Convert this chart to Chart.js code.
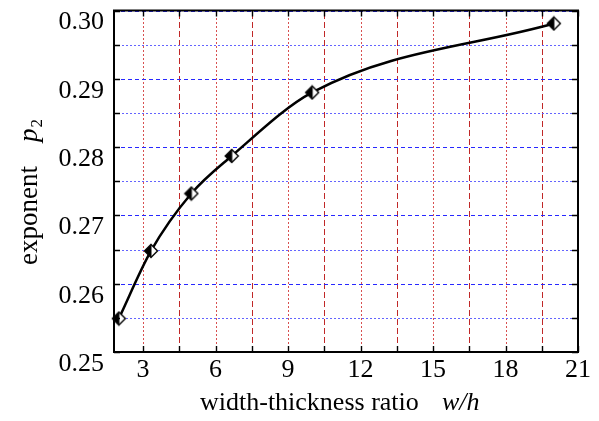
<!DOCTYPE html>
<html>
<head>
<meta charset="utf-8">
<script src="https://cdn.jsdelivr.net/npm/chart.js@4/dist/chart.umd.min.js"></script>
<style>
html,body{margin:0;padding:0;background:#fff;}
#wrap{width:599px;height:421px;position:relative;}
</style>
</head>
<body>
<div id="wrap"><canvas id="c"></canvas></div>
<script>
// ---- data ----
const widthThicknessRatio = [2, 3.33, 5, 6.67, 10, 20];
const exponentP2 = [0.2549, 0.2648, 0.2732, 0.2787, 0.2880, 0.2981];

const xMajorTicks = [3, 6, 9, 12, 15, 18, 21];
const xTickLabels = ['3', '6', '9', '12', '15', '18', '21'];
const xMinorTicks = [4.5, 7.5, 10.5, 13.5, 16.5, 19.5];

const yMajorTicks = [0.25, 0.26, 0.27, 0.28, 0.29, 0.30];
const yTickLabels = ['0.25', '0.26', '0.27', '0.28', '0.29', '0.30'];
const yMinorTicks = [0.255, 0.265, 0.275, 0.285, 0.295];

const xRange = [1.8, 21];
const yRange = [0.25, 0.30];

// ---- helpers ----
function findIdx(arr, v) {
  for (let i = 0; i < arr.length; i++) if (Math.abs(arr[i] - v) < 1e-7) return i;
  return -1;
}
function makeDiamond() {
  const w = 16, h = 16;
  const cv = document.createElement('canvas');
  cv.width = w; cv.height = h;
  const c = cv.getContext('2d');
  const cx = 8, cy = 8, rx = 6.5, ry = 6.5;
  c.beginPath();
  c.moveTo(cx, cy - ry); c.lineTo(cx + rx, cy); c.lineTo(cx, cy + ry); c.lineTo(cx - rx, cy); c.closePath();
  c.fillStyle = '#fff'; c.fill();
  c.beginPath();
  c.moveTo(cx + 0.5, cy - ry); c.lineTo(cx + 0.5, cy + ry); c.lineTo(cx - rx, cy); c.closePath();
  c.fillStyle = '#000'; c.fill();
  c.beginPath();
  c.moveTo(cx, cy - ry); c.lineTo(cx + rx, cy); c.lineTo(cx, cy + ry); c.lineTo(cx - rx, cy); c.closePath();
  c.lineWidth = 1.4; c.strokeStyle = '#000'; c.stroke();
  return cv;
}

const SERIF = "'Liberation Serif', 'DejaVu Serif', serif";

const gridPlugin = {
  id: 'customGrid',
  beforeDatasetsDraw(chart) {
    const {ctx, chartArea: a, scales} = chart;
    ctx.save();
    ctx.lineWidth = 1;
    scales.x.ticks.forEach(t => {
      const major = findIdx(xMajorTicks, t.value) >= 0;
      const px = Math.round(scales.x.getPixelForValue(t.value)) + 0.5;
      ctx.strokeStyle = major ? '#d85050' : '#c02828';
      ctx.setLineDash(major ? [2, 2] : [6, 3]);
      ctx.beginPath();
      ctx.moveTo(px, a.bottom); ctx.lineTo(px, a.top);
      ctx.stroke();
    });
    scales.y.ticks.forEach(t => {
      const major = findIdx(yMajorTicks, t.value) >= 0;
      const py = Math.round(scales.y.getPixelForValue(t.value)) + 0.5;
      ctx.strokeStyle = major ? '#2828ff' : '#6464ff';
      ctx.setLineDash(major ? [4, 3] : [2, 2]);
      ctx.beginPath();
      ctx.moveTo(a.left, py); ctx.lineTo(a.right, py);
      ctx.stroke();
    });
    ctx.restore();
  }
};

const framePlugin = {
  id: 'frame',
  afterDraw(chart) {
    const {ctx, chartArea: a, scales} = chart;
    ctx.save();
    ctx.strokeStyle = '#000';
    ctx.lineWidth = 1.4;
    const tl = 6;
    scales.x.ticks.forEach(t => {
      const px = Math.round(scales.x.getPixelForValue(t.value)) + 0.5;
      ctx.beginPath();
      ctx.moveTo(px, a.bottom); ctx.lineTo(px, a.bottom - tl);
      ctx.moveTo(px, a.top); ctx.lineTo(px, a.top + tl);
      ctx.stroke();
    });
    scales.y.ticks.forEach(t => {
      const py = Math.round(scales.y.getPixelForValue(t.value)) + 0.5;
      ctx.beginPath();
      ctx.moveTo(a.left, py); ctx.lineTo(a.left + tl, py);
      ctx.moveTo(a.right, py); ctx.lineTo(a.right - tl, py);
      ctx.stroke();
    });
    ctx.lineWidth = 2;
    ctx.strokeRect(a.left, a.top, a.right - a.left, a.bottom - a.top);

    // axis titles
    ctx.fillStyle = '#000';
    ctx.textBaseline = 'alphabetic';
    ctx.textAlign = 'left';
    ctx.font = '26px ' + SERIF;
    ctx.fillText('width-thickness ratio', 200, 410);
    ctx.font = 'italic 26px ' + SERIF;
    ctx.fillText('w/h', 442, 410);

    ctx.translate(37, 265);
    ctx.rotate(-Math.PI / 2);
    ctx.font = '27px ' + SERIF;
    ctx.fillText('exponent', 0, 0);
    const w1 = ctx.measureText('exponent').width;
    ctx.font = 'italic 27px ' + SERIF;
    const px0 = w1 + 24;
    ctx.fillText('p', px0, 0);
    const w2 = ctx.measureText('p').width;
    ctx.font = '17px ' + SERIF;
    ctx.fillText('2', px0 + w2 + 1, 5);
    ctx.restore();
  }
};

new Chart(document.getElementById('c'), {
  type: 'scatter',
  data: {
    datasets: [{
      data: widthThicknessRatio.map((x, i) => ({x: x, y: exponentP2[i]})),
      showLine: true,
      borderColor: '#000',
      borderWidth: 2.5,
      cubicInterpolationMode: 'monotone',
      pointStyle: makeDiamond(),
      pointRadius: 8,
      pointHoverRadius: 8,
      clip: false
    }]
  },
  options: {
    responsive: true,
    maintainAspectRatio: false,
    animation: false,
    events: [],
    layout: {padding: {top: 7, right: 21, bottom: 0, left: 0}},
    plugins: {legend: {display: false}, tooltip: {enabled: false}},
    scales: {
      x: {
        type: 'linear',
        min: xRange[0], max: xRange[1],
        afterBuildTicks(scale) {
          scale.ticks = xMajorTicks.concat(xMinorTicks).sort((a, b) => a - b).map(v => ({value: v}));
        },
        afterFit(scale) {
          scale.height = 69;
          scale.paddingLeft = 0; scale.paddingRight = 0;
        },
        ticks: {
          autoSkip: false,
          maxRotation: 0,
          padding: 3,
          color: '#000',
          font: {family: SERIF, size: 26},
          callback(v) { const i = findIdx(xMajorTicks, v); return i >= 0 ? xTickLabels[i] : ''; }
        },
        grid: {display: false, drawTicks: false},
        border: {display: false}
      },
      y: {
        type: 'linear',
        min: yRange[0], max: yRange[1],
        afterBuildTicks(scale) {
          scale.ticks = yMajorTicks.concat(yMinorTicks).sort((a, b) => a - b).map(v => ({value: v}));
        },
        afterFit(scale) {
          scale.width = 114;
          scale.paddingTop = 0; scale.paddingBottom = 0;
        },
        ticks: {
          autoSkip: false,
          padding: 10,
          labelOffset: 12,
          color: '#000',
          font: {family: SERIF, size: 26},
          callback(v) { const i = findIdx(yMajorTicks, v); return i >= 0 ? yTickLabels[i] : ''; }
        },
        grid: {display: false, drawTicks: false},
        border: {display: false}
      }
    }
  },
  plugins: [gridPlugin, framePlugin]
});
</script>
</body>
</html>
